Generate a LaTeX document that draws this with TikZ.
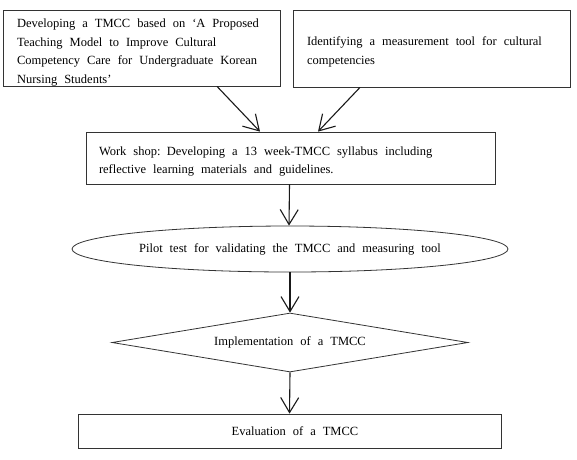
\documentclass[tikz,border=0pt]{standalone}
\usepackage{fontspec}
\setmainfont{Liberation Serif}
\usetikzlibrary{arrows.meta,shapes.geometric,calc}
\newskip\myws
\myws=7pt plus 2pt minus 1pt
\newcommand\mytxtfont{\fontsize{12.5}{18.5}\selectfont\spaceskip\myws}
\begin{document}
\begin{tikzpicture}[x=1pt,y=-1pt,
  txt/.style={font=\mytxtfont,execute at begin node={\spaceskip\myws}},
  shp/.style={draw=black!80,line width=0.8pt,txt},
  flowbox/.style={shp,rectangle,inner sep=0pt},
  para/.style={txt,inner sep=0pt,align=left},
  arr/.style={draw=black!90,line width=1.1pt,-{Straight Barb[length=15pt,width=18pt,line width=1.1pt]}}
]
\useasboundingbox (0,0) rectangle (577,459);
% top-left box
\node[flowbox,minimum width=277pt,minimum height=76pt] (b1) at (141.5,48) {};
\node[para,text width=249pt] (b1t) at ([yshift=-4.5pt]b1.center)
  {Developing a TMCC based on ‘A Proposed\\Teaching Model to Improve Cultural\\Competency Care for Undergraduate Korean\\Nursing Students’};
% top-right box
\node[flowbox,minimum width=277pt,minimum height=77pt] (b2) at (431.5,48.5) {};
\node[para,text width=249pt] (b2t) at ([yshift=-3.5pt]b2.center)
  {Identifying a measurement tool for cultural\\competencies};
% workshop box
\node[flowbox,minimum width=409pt,minimum height=52pt] (b3) at (290.5,158) {};
\node[para,text width=383pt] (b3t) at ([yshift=-3.5pt]b3.center)
  {Work shop: Developing a 13 week-TMCC syllabus including\\reflective learning materials and guidelines.};
% ellipse
\node[shp,ellipse,inner sep=0pt,minimum width=436pt,minimum height=46pt] (e1) at (290,249)
  {Pilot test for validating the TMCC and measuring tool};
% diamond
\node[shp,diamond,aspect=6,inner sep=0pt,minimum width=356pt,minimum height=59pt] (d1) at (290,342.5)
  {Implementation of a TMCC};
% evaluation box
\node[flowbox,minimum width=423pt,minimum height=34pt] (b4) at (289.5,431)
  {\hspace{11pt}Evaluation of a TMCC};
% connectors
\draw[arr] ([xshift=75.5pt]b1.south) -- ([xshift=-30.5pt]b3.north);
\draw[arr] ([xshift=-71.5pt]b2.south) -- ([xshift=27.5pt]b3.north);
\draw[arr] ([xshift=-1pt]b3.south) -- ([xshift=-1pt]e1.north);
\draw[arr] (e1.south) -- (d1.north);
\draw[arr] (d1.south) -- (b4.north);
\end{tikzpicture}
\end{document}
